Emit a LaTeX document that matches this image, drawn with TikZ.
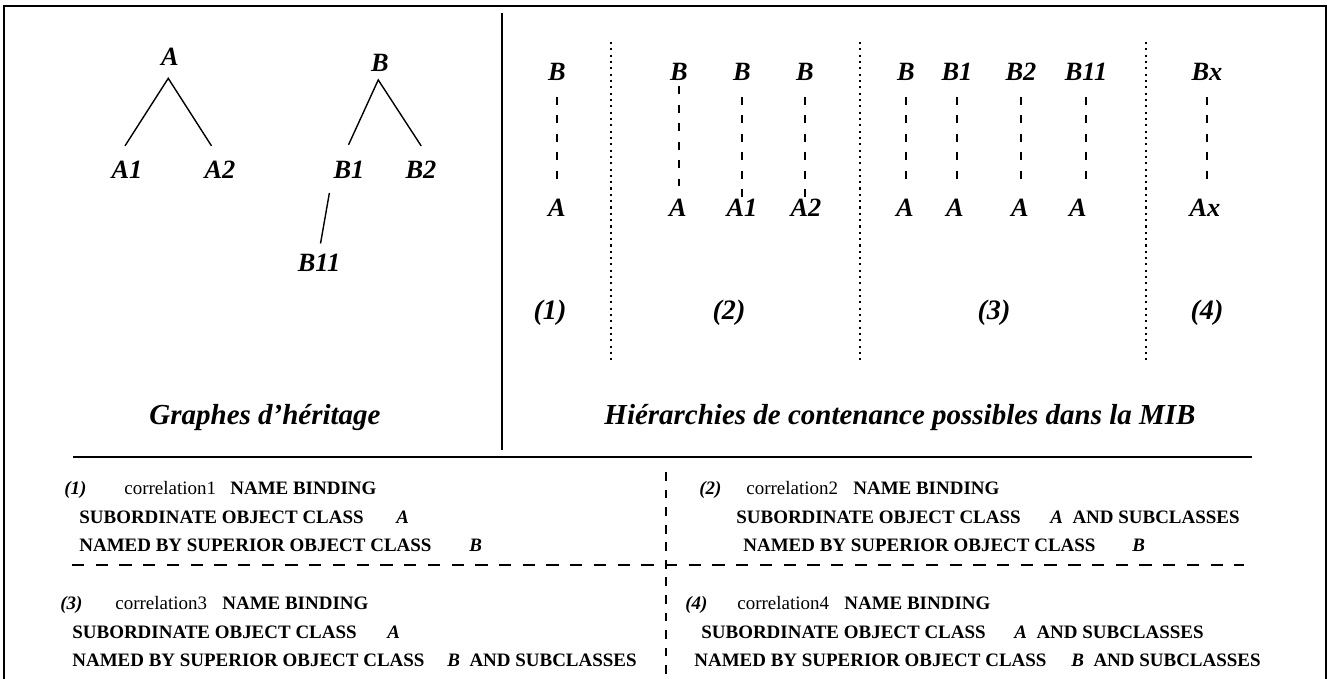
\documentclass[tikz,border=0pt]{standalone}
\usepackage{fontspec}
\setmainfont{Liberation Serif}
\usetikzlibrary{positioning}

\tikzset{
  lbl/.style={font=\fontsize{15}{15}\selectfont\bfseries\itshape, inner sep=1pt},
  casenum/.style={font=\fontsize{16}{16}\selectfont\bfseries\itshape, inner sep=1pt},
  headline/.style={font=\fontsize{16.5}{17}\selectfont\bfseries\itshape, inner sep=1pt},
  txt/.style={font=\fontsize{10.8}{13}\selectfont, anchor=base west, inner sep=0pt},
  inh/.style={line width=0.8pt, shorten <=9pt, shorten >=9pt},
  contl/.style={line width=0.7pt, dash pattern=on 4.5pt off 6pt, shorten <=8pt, shorten >=9pt},
  sepline/.style={line width=0.8pt, dash pattern=on 1.2pt off 2.4pt},
  midline/.style={line width=0.8pt, dash pattern=on 7pt off 6.5pt},
}

\begin{document}
\begin{tikzpicture}[x=0.02cm, y=-0.02cm]
\useasboundingbox (0,0) rectangle (1331,679);

% frame
\draw[line width=1.1pt] (4,679) -- (4,6) -- (1326,6) -- (1326,679);
\draw[line width=1.1pt] (502,13) -- (502,450);
\draw[line width=1.1pt] (73,457) -- (1252,457);

% heritage graphs
\node[lbl] (A) at (170,57) {A};
\node[lbl] (A1) at (127,170) {A1};
\node[lbl] (A2) at (220,170) {A2};
\node[lbl] (B) at (380,63) {B};
\node[lbl] (B1) at (349,170) {B1};
\node[lbl] (B2) at (421,170) {B2};
\node[lbl] (B11) at (319,263) {B11};
\coordinate (Atop) at ([xshift=-1pt, yshift=-6pt]A.south);
\coordinate (Btop) at ([xshift=-1pt, yshift=-3.5pt]B.south);
\draw[inh] ([xshift=-6pt]A1.north) -- (Atop) -- (A2.north);
\draw[inh] ([xshift=-4pt]B1.north) -- (Btop) -- ([xshift=5pt]B2.north);
\draw[inh, shorten <=7pt, shorten >=5pt] (B1.south west) -- (B11.north);
\node[headline] (gh) at (265,418) {Graphes d’héritage};

% containment hierarchies
\draw[sepline] (611,42) -- (611,362);
\draw[sepline] (860,42) -- (860,362);
\draw[sepline] (1146,42) -- (1146,362);

% (1)
\node[lbl] (b1) at (557,72) {B};
\node[lbl] (a1) at (557,208) {A};
\draw[contl] (b1.south) -- (b1.south |- a1.north);
% (2)
\node[lbl] (b2a) at (679,72) {B};
\node[lbl] (b2b) at (742,72) {B};
\node[lbl] (b2c) at (805,72) {B};
\node[lbl] (a2a) at (678,208) {A};
\node[lbl] (a2b) at (742,208) {A1};
\node[lbl] (a2c) at (806,208) {A2};
\draw[contl, shorten <=2pt, shorten >=3pt] (b2a.south) -- (b2a.south |- a2a.north);
\draw[contl, shorten >=-1.5pt] (b2b.south) -- (b2b.south |- a2b.north);
\draw[contl, shorten >=-1.5pt] (b2c.south) -- (b2c.south |- a2c.north);
% (3)
\node[lbl] (b3a) at (906,72) {B};
\node[lbl] (b3b) at (957,72) {B1};
\node[lbl] (b3c) at (1021,72) {B2};
\node[lbl] (b3d) at (1086,72) {B11};
\node[lbl] (a3a) at (905,208) {A};
\node[lbl] (a3b) at (955,208) {A};
\node[lbl] (a3c) at (1020,208) {A};
\node[lbl] (a3d) at (1078,208) {A};
\draw[contl] (b3a.south) -- (b3a.south |- a3a.north);
\draw[contl] (b3b.south) -- (b3b.south |- a3b.north);
\draw[contl] (b3c.south) -- (b3c.south |- a3c.north);
\draw[contl] (b3d.south) -- (b3d.south |- a3d.north);
% (4)
\node[lbl] (b4) at (1207,72) {Bx};
\node[lbl] (a4) at (1205,208) {Ax};
\draw[contl] (b4.south) -- (b4.south |- a4.north);

\node[casenum] (n1) at (550,313) {(1)};
\node[casenum] (n2) at (729,313) {(2)};
\node[casenum] (n3) at (994,313) {(3)};
\node[casenum] (n4) at (1207,313) {(4)};
\node[headline] (hc) at (900,418) {Hiérarchies de contenance possibles dans la MIB};

% name bindings
\draw[midline] (72,565) -- (1244,565);
\draw[midline, dash pattern=on 5pt off 5pt] (666,472) -- (666,679);

\node[txt] (k1) at (64,494) {\textbf{\textit{(1)}}};
\node[txt] (c1) at (124,494) {correlation1};
\node[txt] (nb1) at (230,494) {\textbf{NAME BINDING}};
\node[txt] (s1) at (79,523) {\textbf{SUBORDINATE OBJECT CLASS}};
\node[txt] (s1v) at (396,523) {\textbf{\textit{A}}};
\node[txt] (p1) at (79,551) {\textbf{NAMED BY SUPERIOR OBJECT CLASS}};
\node[txt] (p1v) at (469,551) {\textbf{\textit{B}}};

\node[txt] (k2) at (699,494) {\textbf{\textit{(2)}}};
\node[txt] (c2) at (746,494) {correlation2};
\node[txt] (nb2) at (853,494) {\textbf{NAME BINDING}};
\node[txt] (s2) at (736,523) {\textbf{SUBORDINATE OBJECT CLASS}};
\node[txt] (s2v) at (1050,523) {\textbf{\textit{A}\ \ AND SUBCLASSES}};
\node[txt] (p2) at (743,551) {\textbf{NAMED BY SUPERIOR OBJECT CLASS}};
\node[txt] (p2v) at (1132,551) {\textbf{\textit{B}}};

\node[txt] (k3) at (60,609) {\textbf{\textit{(3)}}};
\node[txt] (c3) at (115,609) {correlation3};
\node[txt] (nb3) at (222,609) {\textbf{NAME BINDING}};
\node[txt] (s3) at (72,638) {\textbf{SUBORDINATE OBJECT CLASS}};
\node[txt] (s3v) at (387,638) {\textbf{\textit{A}}};
\node[txt] (p3) at (72,666) {\textbf{NAMED BY SUPERIOR OBJECT CLASS}};
\node[txt] (p3v) at (447,666) {\textbf{\textit{B}\ \ AND SUBCLASSES}};

\node[txt] (k4) at (685,609) {\textbf{\textit{(4)}}};
\node[txt] (c4) at (737,609) {correlation4};
\node[txt] (nb4) at (844,609) {\textbf{NAME BINDING}};
\node[txt] (s4) at (701,638) {\textbf{SUBORDINATE OBJECT CLASS}};
\node[txt] (s4v) at (1014,638) {\textbf{\textit{A}\ \ AND SUBCLASSES}};
\node[txt] (p4) at (694,666) {\textbf{NAMED BY SUPERIOR OBJECT CLASS}};
\node[txt] (p4v) at (1071,666) {\textbf{\textit{B}\ \ AND SUBCLASSES}};
\end{tikzpicture}
\end{document}
